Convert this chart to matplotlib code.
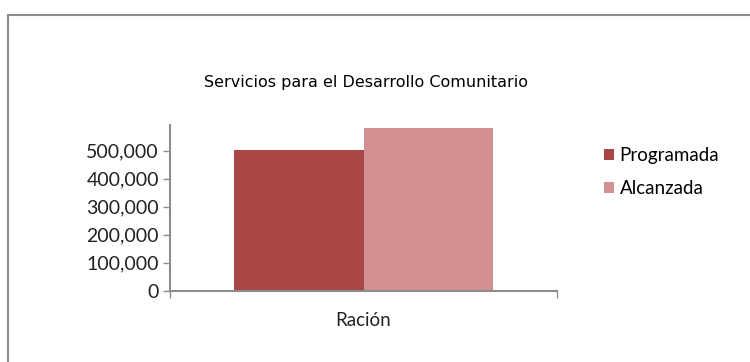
import matplotlib
matplotlib.use("Agg")
import matplotlib.pyplot as plt
import matplotlib.patches as patches
from matplotlib.ticker import FuncFormatter

# data
categories = ["Ración"]
series_names = ["Programada", "Alcanzada"]
programada = [503000]
alcanzada = [581000]
y_ticks = [0, 100000, 200000, 300000, 400000, 500000]
title = "Servicios para el Desarrollo Comunitario"

colors = ["#A84746", "#D29091"]
axis_color = "#8C8C8C"
label_font = ["Lato", "DejaVu Sans"]

fig = plt.figure(figsize=(7.5, 3.62), dpi=100)

# outer chart border (extends past the right / bottom edge like the crop)
fig.patches.append(patches.Rectangle(
    (8 / 750, -0.1), 1.0, 1 - 15 / 362 + 0.1,
    transform=fig.transFigure, fill=False, edgecolor="#8C8C8C",
    linewidth=1.5, zorder=0))

ax = fig.add_axes([0.2267, 0.197, 0.516, 0.4577])

bar_w = 0.335
for i, (name, vals) in enumerate(zip(series_names, [programada, alcanzada])):
    xs = [c + (i - 0.5) * bar_w for c in range(len(categories))]
    ax.bar(xs, vals, width=bar_w, color=colors[i], label=name, zorder=2)

ax.set_xlim(-0.5, len(categories) - 0.5)
ax.set_ylim(0, 592000)

ax.set_yticks(y_ticks)
ax.yaxis.set_major_formatter(FuncFormatter(lambda v, p: f"{int(v):,}"))
ax.tick_params(axis="y", length=5, width=1, color=axis_color, pad=3,
               labelsize=14, labelcolor="#222222")
for lbl in ax.get_yticklabels():
    lbl.set_family(label_font)

# category boundary ticks plus the category label in the middle
ax.set_xticks([-0.5, len(categories) - 0.5])
ax.set_xticklabels(["", ""])
ax.tick_params(axis="x", which="major", length=5, width=1, color=axis_color)
ax.set_xticks(range(len(categories)), minor=True)
ax.set_xticklabels(categories, minor=True, fontsize=13.5, family=label_font,
                   color="#222222")
ax.tick_params(axis="x", which="minor", length=0, pad=15)

for side in ["top", "right"]:
    ax.spines[side].set_visible(False)
for side in ["left", "bottom"]:
    ax.spines[side].set_color(axis_color)
    ax.spines[side].set_linewidth(1.5)

fig.text(366 / 750, 1 - 83 / 362, title, ha="center", va="center",
         fontsize=11.5, color="black", family="DejaVu Sans")

leg = ax.legend(loc="upper left", bbox_to_anchor=(1.077, 0.97), frameon=False,
                prop={"family": label_font, "size": 13.5},
                handlelength=0.55, handleheight=0.55, handletextpad=0.3,
                labelspacing=0.85)

fig.savefig("out.png", dpi=100)
